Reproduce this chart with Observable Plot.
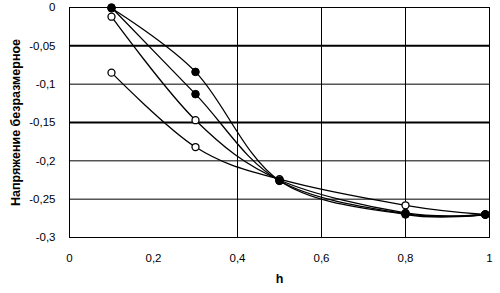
<!DOCTYPE html>
<html><head><meta charset="utf-8">
<script src="https://cdn.jsdelivr.net/npm/d3@7"></script>
<script src="https://cdn.jsdelivr.net/npm/@observablehq/plot@0.6"></script>
<style>
html,body{margin:0;padding:0;background:#fff}
svg{display:block}
g[aria-label="x-axis label"] text, g[aria-label="y-axis label"] text{font-weight:bold;font-size:12.5px}
</style></head><body><div id="chart"></div>
<script>
// h positions
const hValues = [0.1, 0.3, 0.5, 0.8, 0.99];
// series values (dimensionless stress)
const series1 = [-0.001, -0.084, -0.226, -0.270, -0.270]; // filled markers
const series2 = [0.000, -0.113, -0.226, -0.269, -0.270];  // filled markers
const series3 = [-0.012, -0.147, -0.225, -0.268, -0.270]; // open markers
const series4 = [-0.085, -0.182, -0.224, -0.258, -0.270]; // open markers
const seriesNames = ["s1", "s2", "s3", "s4"];
const seriesFilled = [true, true, false, false];
const xTicks = [0, 0.2, 0.4, 0.6, 0.8, 1];
const xGrid = [0.4, 0.6, 0.8];
const yTicks = [0, -0.05, -0.1, -0.15, -0.2, -0.25, -0.3];
const yGridThin = [-0.1, -0.2, -0.25];
const yGridThick = [-0.05, -0.15];

const allSeries = [series1, series2, series3, series4];
const rows = [];
allSeries.forEach((vals, i) => vals.forEach((v, j) => rows.push({series: seriesNames[i], h: hValues[j], v, filled: seriesFilled[i]})));

const fmt = d => d === 0 ? "0" : String(+d.toFixed(2)).replace(".", ",");

const chart = Plot.plot({
  width: 500,
  height: 293,
  marginLeft: 69,
  marginRight: 11,
  marginTop: 7,
  marginBottom: 56,
  style: {fontFamily: "'Liberation Sans', Arial, sans-serif", fontSize: "11.5px", color: "#000", background: "#fff"},
  x: {domain: [0, 1], ticks: xTicks, tickFormat: fmt, tickSize: 0, tickPadding: 16, label: "h", labelAnchor: "center", labelArrow: "none", labelOffset: 45},
  y: {domain: [-0.3, 0], ticks: yTicks, tickFormat: fmt, tickSize: 0, tickPadding: 14, label: "Напряжение безразмерное", labelAnchor: "center", labelArrow: "none", labelOffset: 58},
  marks: [
    Plot.ruleY(yGridThin, {stroke: "#000", strokeWidth: 1}),
    Plot.ruleY(yGridThick, {stroke: "#000", strokeWidth: 2}),
    Plot.ruleX(xGrid, {stroke: "#000", strokeWidth: 1}),
    Plot.frame({stroke: "#000", strokeWidth: 1}),
    Plot.line(rows, {x: "h", y: "v", z: "series", stroke: "#000", strokeWidth: 1.3, curve: "cardinal", tension: 0}),
    Plot.dot(rows.filter(d => !d.filled), {x: "h", y: "v", r: 3.5, fill: "#fff", stroke: "#000", strokeWidth: 1.3}),
    Plot.dot(rows.filter(d => d.filled), {x: "h", y: "v", r: 3.8, fill: "#000", stroke: "#000", strokeWidth: 1})
  ]
});
document.getElementById("chart").appendChild(chart);
</script></body></html>
